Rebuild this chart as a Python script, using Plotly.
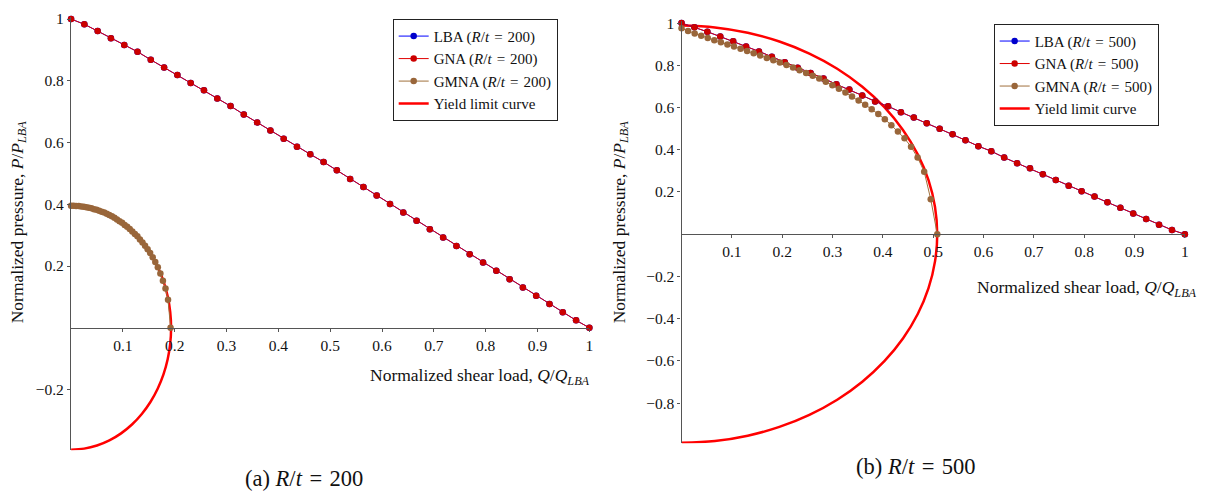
import plotly.graph_objects as go

W, H = 1207, 495

# ---------------- data ----------------
# Normalized shear load Q/Q_LBA for the LBA / GNA interaction curves (both panels)
q_lin = [0.0, 0.0256, 0.0513, 0.0769, 0.1026, 0.1282, 0.1538, 0.1795, 0.2051, 0.2308,
         0.2564, 0.2821, 0.3077, 0.3333, 0.3590, 0.3846, 0.4103, 0.4359, 0.4615, 0.4872,
         0.5128, 0.5385, 0.5641, 0.5897, 0.6154, 0.6410, 0.6667, 0.6923, 0.7179, 0.7436,
         0.7692, 0.7949, 0.8205, 0.8462, 0.8718, 0.8974, 0.9231, 0.9487, 0.9744, 1.0]

# R/t = 200
p_lba_200 = [1.0, 0.983, 0.961, 0.938, 0.916, 0.894, 0.868, 0.843, 0.819, 0.793,
             0.769, 0.743, 0.718, 0.691, 0.665, 0.639, 0.612, 0.586, 0.562, 0.537,
             0.510, 0.482, 0.456, 0.428, 0.401, 0.373, 0.347, 0.319, 0.292, 0.265,
             0.238, 0.211, 0.185, 0.157, 0.130, 0.104, 0.077, 0.050, 0.024, 0.0]
p_gna_200 = list(p_lba_200)
q_gmna_200 = [0.0, 0.0049, 0.0098, 0.0148, 0.0197, 0.0246, 0.0295, 0.0345, 0.0394, 0.0443,
              0.0492, 0.0542, 0.0591, 0.0640, 0.0689, 0.0738, 0.0788, 0.0837, 0.0886, 0.0935,
              0.0985, 0.1034, 0.1083, 0.1132, 0.1182, 0.1231, 0.1280, 0.1329, 0.1378, 0.1428,
              0.1477, 0.1526, 0.1575, 0.1625, 0.1674, 0.1723, 0.1772, 0.1822, 0.1871, 0.1920]
p_gmna_200 = [0.395, 0.395, 0.394, 0.394, 0.393, 0.392, 0.390, 0.389, 0.387, 0.384,
              0.382, 0.379, 0.376, 0.373, 0.369, 0.365, 0.361, 0.356, 0.351, 0.345,
              0.340, 0.333, 0.327, 0.320, 0.312, 0.304, 0.296, 0.286, 0.276, 0.266,
              0.254, 0.242, 0.228, 0.213, 0.196, 0.176, 0.152, 0.127, 0.091, 0.0]
q_yield_200 = [0.0, 0.0252, 0.0500, 0.0739, 0.0965, 0.1175, 0.1365, 0.1531, 0.1671, 0.1783,
               0.1864, 0.1913, 0.1930, 0.1913, 0.1864, 0.1783, 0.1671, 0.1531, 0.1365, 0.1175,
               0.0965, 0.0739, 0.0500, 0.0252, 0.0]
p_yield_200 = [0.395, 0.3916, 0.3815, 0.3649, 0.3421, 0.3134, 0.2793, 0.2405, 0.1975, 0.1512,
               0.1022, 0.0515, 0.0, -0.0515, -0.1022, -0.1512, -0.1975, -0.2405, -0.2793, -0.3134,
               -0.3421, -0.3649, -0.3815, -0.3916, -0.395]

# R/t = 500
p_lba_500 = [1.0, 0.980, 0.959, 0.936, 0.914, 0.889, 0.866, 0.841, 0.814, 0.788,
             0.763, 0.738, 0.710, 0.685, 0.657, 0.629, 0.606, 0.578, 0.553, 0.525,
             0.499, 0.473, 0.445, 0.417, 0.393, 0.363, 0.336, 0.312, 0.284, 0.257,
             0.230, 0.204, 0.178, 0.151, 0.125, 0.098, 0.072, 0.045, 0.020, 0.0]
p_gna_500 = list(p_lba_500)
q_gmna_500 = [0.0, 0.0130, 0.0261, 0.0391, 0.0521, 0.0651, 0.0782, 0.0912, 0.1042, 0.1173,
              0.1303, 0.1433, 0.1563, 0.1694, 0.1824, 0.1954, 0.2085, 0.2215, 0.2345, 0.2475,
              0.2606, 0.2736, 0.2866, 0.2997, 0.3127, 0.3257, 0.3387, 0.3518, 0.3648, 0.3778,
              0.3909, 0.4039, 0.4169, 0.4299, 0.4430, 0.4560, 0.4690, 0.4821, 0.4951, 0.5081]
p_gmna_500 = [0.975, 0.962, 0.951, 0.940, 0.929, 0.919, 0.909, 0.899, 0.889, 0.879,
              0.868, 0.857, 0.846, 0.835, 0.824, 0.813, 0.802, 0.790, 0.777, 0.764,
              0.750, 0.737, 0.722, 0.706, 0.689, 0.671, 0.652, 0.633, 0.613, 0.592,
              0.569, 0.545, 0.516, 0.487, 0.454, 0.414, 0.363, 0.296, 0.166, 0.0]
q_yield_500 = [0.0, 0.0663, 0.1315, 0.1944, 0.2540, 0.3093, 0.3592, 0.4030, 0.4399, 0.4693,
               0.4907, 0.5036, 0.5080, 0.5036, 0.4907, 0.4693, 0.4399, 0.4030, 0.3592, 0.3093,
               0.2540, 0.1944, 0.1315, 0.0663, 0.0]
p_yield_500 = [0.988, 0.9795, 0.9543, 0.9128, 0.8556, 0.7839, 0.6986, 0.6015, 0.4940, 0.3781,
               0.2557, 0.1289, 0.0, -0.1289, -0.2557, -0.3781, -0.4940, -0.6015, -0.6986, -0.7839,
               -0.8556, -0.9128, -0.9543, -0.9795, -0.988]

x_ticks = [0.1, 0.2, 0.3, 0.4, 0.5, 0.6, 0.7, 0.8, 0.9, 1.0]
x_ticktext = ["0.1", "0.2", "0.3", "0.4", "0.5", "0.6", "0.7", "0.8", "0.9", "1"]
y_ticks_200 = [-0.2, 0.2, 0.4, 0.6, 0.8, 1.0]
y_ticktext_200 = ["\u22120.2", "0.2", "0.4", "0.6", "0.8", "1"]
y_ticks_500 = [-0.8, -0.6, -0.4, -0.2, 0.2, 0.4, 0.6, 0.8, 1.0]
y_ticktext_500 = ["\u22120.8", "\u22120.6", "\u22120.4", "\u22120.2", "0.2", "0.4", "0.6", "0.8", "1"]

# ---------------- styles ----------------
FONT = "Liberation Serif"
BLUE = "#0000ff"
BLUE_M = "#0000cc"
RED_L = "#e00000"
RED_M = "#cc0000"
BROWN_L = "#a0703c"
BROWN_M = "#99663a"
YIELD = "#ff0000"
AXC = "#555555"
MS = 6.5
TXT = "#111111"
EQ = "\u2004=\u2004"

# panel geometry (pixels)
L = dict(x0=71.3, xs=520.0, y0=325.7, ys=312.5, ymin=-0.397, ymax=1.008)
R = dict(x0=683.8, xs=505.0, y0=231.0, ys=213.7, ymin=-0.99, ymax=1.01)


def domains(g):
    xd = [g["x0"] / W, (g["x0"] + g["xs"]) / W]
    top = g["y0"] - g["ys"] * g["ymax"]
    bot = g["y0"] - g["ys"] * g["ymin"]
    yd = [1 - bot / H, 1 - top / H]
    zero = 1 - g["y0"] / H
    return xd, yd, zero


xdL, ydL, zL = domains(L)
xdR, ydR, zR = domains(R)

fig = go.Figure()


def add_panel(xa, ya, leg, rt, p_lba, p_gna, q_gm, p_gm, q_y, p_y):
    lbl = f"(<i>R</i>/<i>t</i>{EQ}{rt})"
    fig.add_trace(go.Scatter(x=q_y, y=p_y, mode="lines", line=dict(color=YIELD, width=2.5, shape="spline"),
                             name="Yield limit curve", xaxis=xa, yaxis=ya, legend=leg, legendrank=4))
    fig.add_trace(go.Scatter(x=q_lin, y=p_lba, mode="lines+markers", line=dict(color=BLUE, width=1),
                             marker=dict(color=BLUE_M, size=MS), cliponaxis=False,
                             name="LBA " + lbl, xaxis=xa, yaxis=ya, legend=leg, legendrank=1))
    fig.add_trace(go.Scatter(x=q_lin, y=p_gna, mode="lines+markers", line=dict(color=RED_L, width=1),
                             marker=dict(color=RED_M, size=MS), cliponaxis=False,
                             name="GNA " + lbl, xaxis=xa, yaxis=ya, legend=leg, legendrank=2))
    fig.add_trace(go.Scatter(x=q_gm, y=p_gm, mode="lines+markers", line=dict(color=BROWN_L, width=1),
                             marker=dict(color=BROWN_M, size=MS), cliponaxis=False,
                             name="GMNA " + lbl, xaxis=xa, yaxis=ya, legend=leg, legendrank=3))


add_panel("x", "y", "legend", 200, p_lba_200, p_gna_200, q_gmna_200, p_gmna_200, q_yield_200, p_yield_200)
add_panel("x2", "y2", "legend2", 500, p_lba_500, p_gna_500, q_gmna_500, p_gmna_500, q_yield_500, p_yield_500)

tickfont = dict(family=FONT, size=15.5, color=TXT)
common_x = dict(range=[0, 1], tickvals=x_ticks, ticktext=x_ticktext, showgrid=False, zeroline=False,
                showline=True, linecolor=AXC, linewidth=1.3, ticks="outside", ticklen=3, tickcolor=AXC,
                tickwidth=1, tickfont=tickfont, anchor="free")
common_y = dict(showgrid=False, zeroline=False, showline=True, linecolor=AXC, linewidth=1.3,
                ticks="outside", ticklen=3, tickcolor=AXC, tickwidth=1, tickfont=tickfont)

legend_style = dict(font=dict(family=FONT, size=15, color=TXT), bgcolor="white",
                    bordercolor="#222222", borderwidth=1, xanchor="left", yanchor="top",
                    tracegroupgap=0, itemwidth=30)

fig.update_layout(
    width=W, height=H, margin=dict(l=0, r=0, t=0, b=0),
    paper_bgcolor="white", plot_bgcolor="white",
    xaxis=dict(domain=xdL, position=zL, **common_x),
    yaxis=dict(domain=ydL, range=[L["ymin"], L["ymax"]], tickvals=y_ticks_200, ticktext=y_ticktext_200,
               anchor="x", **common_y),
    xaxis2=dict(domain=xdR, position=zR, **common_x),
    yaxis2=dict(domain=ydR, range=[R["ymin"], R["ymax"]], tickvals=y_ticks_500, ticktext=y_ticktext_500,
                anchor="x2", **common_y),
    legend=dict(x=394 / W, y=1 - 13 / H, **legend_style),
    legend2=dict(x=997 / W, y=1 - 18 / H, **legend_style),
    showlegend=True,
)

lab_font = dict(family=FONT, size=17.5, color=TXT)
ylab = "Normalized pressure, <i>P</i>/<i>P</i><sub><i>LBA</i></sub>"
xlab = "Normalized shear load, <i>Q</i>/<i>Q</i><sub><i>LBA</i></sub>"
ann = [
    dict(text=ylab, x=18 / W, y=1 - 218 / H, textangle=-90, font=lab_font),
    dict(text=ylab, x=622 / W, y=1 - 218 / H, textangle=-90, font=lab_font),
    dict(text=xlab, x=594 / W, y=1 - 375 / H, xanchor="right", font=lab_font),
    dict(text=xlab, x=1203 / W, y=1 - 286 / H, xanchor="right", font=lab_font),
    dict(text=f"(a) <i>R</i>/<i>t</i>{EQ}200", x=305 / W, y=1 - 478 / H,
         font=dict(family=FONT, size=22.5, color=TXT)),
    dict(text=f"(b) <i>R</i>/<i>t</i>{EQ}500", x=919 / W, y=1 - 466 / H,
         font=dict(family=FONT, size=22.5, color=TXT)),
]
for a in ann:
    a.update(xref="paper", yref="paper", showarrow=False)
    a.setdefault("xanchor", "center")
    a.setdefault("yanchor", "middle")
fig.update_layout(annotations=ann)

fig.write_html("out.html")
